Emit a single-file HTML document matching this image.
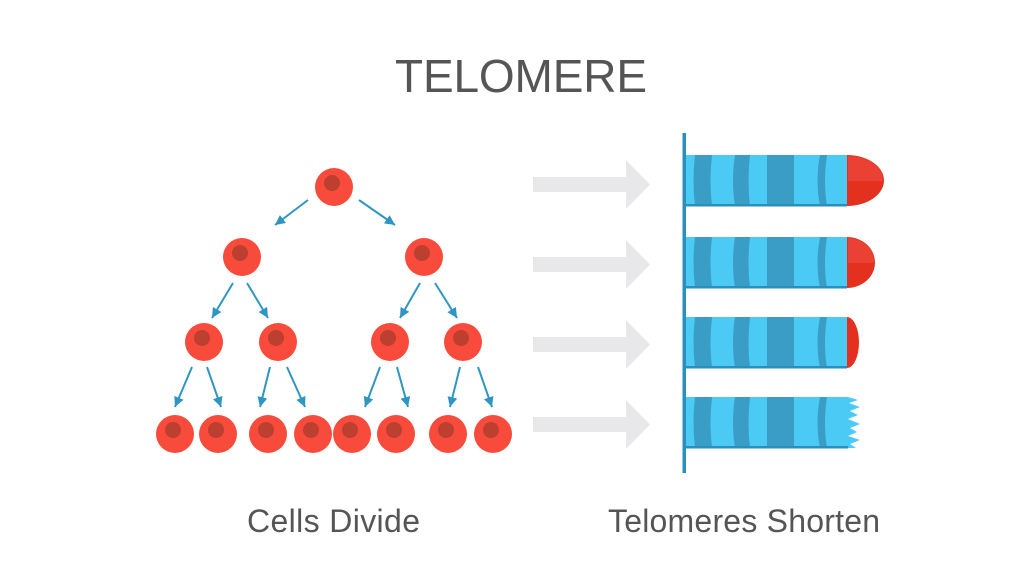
<!DOCTYPE html>
<html><head><meta charset="utf-8"><style>
html,body{margin:0;padding:0;background:#fff;}
svg{display:block;}
</style></head><body>
<svg width="1024" height="573" viewBox="0 0 1024 573" xmlns="http://www.w3.org/2000/svg">
<defs>
<marker id="ah" markerUnits="userSpaceOnUse" markerWidth="12" markerHeight="12" refX="10" refY="5" orient="auto">
<path d="M0,0 L10,5 L0,10 Z" fill="#2f96c2"/>
</marker>
<g id="cell">
<circle cx="0" cy="0" r="19" fill="#f84b3c"/>
<circle cx="-2" cy="-4" r="8" fill="#bd3f2f"/>
</g>
</defs>
<rect width="1024" height="573" fill="#fff"/>

<text x="395" y="92" font-family="Liberation Sans, Arial, sans-serif" font-size="46" fill="#555" textLength="252" lengthAdjust="spacing">TELOMERE</text>

<!-- division arrows -->
<g stroke="#2f96c2" stroke-width="2" fill="none" marker-end="url(#ah)">
<line x1="308" y1="200" x2="275" y2="225"/>
<line x1="359" y1="200" x2="395" y2="225"/>
<line x1="233" y1="283" x2="212" y2="318"/>
<line x1="247" y1="283" x2="268" y2="318"/>
<line x1="420" y1="283" x2="400" y2="318"/>
<line x1="435" y1="283" x2="457" y2="318"/>
<line x1="192" y1="367" x2="175" y2="407"/>
<line x1="207" y1="367" x2="221" y2="407"/>
<line x1="270" y1="367" x2="260" y2="407"/>
<line x1="287" y1="367" x2="305" y2="407"/>
<line x1="380" y1="367" x2="365" y2="407"/>
<line x1="397" y1="367" x2="408" y2="407"/>
<line x1="460" y1="367" x2="450" y2="407"/>
<line x1="478" y1="367" x2="492" y2="407"/>
</g>

<!-- cells -->
<use href="#cell" x="334" y="187"/>
<use href="#cell" x="242" y="257"/>
<use href="#cell" x="424" y="257"/>
<use href="#cell" x="204" y="342"/>
<use href="#cell" x="278" y="342"/>
<use href="#cell" x="390" y="342"/>
<use href="#cell" x="463" y="342"/>
<use href="#cell" x="175" y="434"/>
<use href="#cell" x="218" y="434"/>
<use href="#cell" x="268" y="434"/>
<use href="#cell" x="313" y="434"/>
<use href="#cell" x="352" y="434"/>
<use href="#cell" x="396" y="434"/>
<use href="#cell" x="448" y="434"/>
<use href="#cell" x="493" y="434"/>

<!-- gray arrows -->
<g fill="#e8e8ea">
<path d="M533,177 L626,177 L626,160 L650,184.5 L626,209 L626,192 L533,192 Z"/>
<path d="M533,257 L626,257 L626,240 L650,264.5 L626,289 L626,272 L533,272 Z"/>
<path d="M533,337 L626,337 L626,320 L650,344.5 L626,369 L626,352 L533,352 Z"/>
<path d="M533,417 L626,417 L626,400 L650,424.5 L626,449 L626,432 L533,432 Z"/>
</g>

<!-- chromosomes -->
<g id="bars">
<path d="M847,155 A37,25.5 0 0 1 847,206 Z" fill="#e3301f"/>
<path d="M848,156 A36,24 0 0 1 883,181 L848,181 Z" fill="#ec463a" opacity="0.8"/>
<rect x="686" y="155" width="161" height="51" fill="#4ccaf6"/>
<path d="M847,237 A28,25.5 0 0 1 847,288 Z" fill="#e3301f"/>
<path d="M848,238 A27,24 0 0 1 874,263 L848,263 Z" fill="#ec463a" opacity="0.8"/>
<rect x="686" y="237" width="161" height="51" fill="#4ccaf6"/>
<path d="M847,317 A12,25.5 0 0 1 847,368 Z" fill="#e3301f"/>
<rect x="686" y="317" width="161" height="51" fill="#4ccaf6"/>
<path d="M686,397 L848,397 L858,400 L849,403 L860,407 L850,411 L858,415 L848,419 L860,424 L850,428 L857,432 L848,436 L860,440 L850,444 L856,448 L686,448 Z" fill="#4ccaf6"/>
</g>
<g fill="#3a9dc5">
<path d="M695,155 Q692,180.5 695,206 L712,206 Q709,180.5 712,155 Z"/>
<path d="M735,155 Q731,180.5 735,206 L750,206 Q747,180.5 750,155 Z"/>
<path d="M767,155 L794,155 L794,206 L767,206 Z"/>
<path d="M820,155 Q815,180.5 820,206 L827,206 Q823,180.5 827,155 Z"/>

<path d="M695,237 Q692,262.5 695,288 L712,288 Q709,262.5 712,237 Z"/>
<path d="M735,237 Q731,262.5 735,288 L750,288 Q747,262.5 750,237 Z"/>
<path d="M767,237 L794,237 L794,288 L767,288 Z"/>
<path d="M820,237 Q815,262.5 820,288 L827,288 Q823,262.5 827,237 Z"/>

<path d="M695,317 Q692,342.5 695,368 L712,368 Q709,342.5 712,317 Z"/>
<path d="M735,317 Q731,342.5 735,368 L750,368 Q747,342.5 750,317 Z"/>
<path d="M767,317 L794,317 L794,368 L767,368 Z"/>
<path d="M820,317 Q815,342.5 820,368 L827,368 Q823,342.5 827,317 Z"/>

<path d="M695,397 Q692,422.5 695,448 L712,448 Q709,422.5 712,397 Z"/>
<path d="M735,397 Q731,422.5 735,448 L750,448 Q747,422.5 750,397 Z"/>
<path d="M767,397 L794,397 L794,448 L767,448 Z"/>
<path d="M820,397 Q815,422.5 820,448 L827,448 Q823,422.5 827,397 Z"/>
</g>
<g fill="#2b8fbb">
<rect x="686" y="204" width="161" height="2.5"/>
<rect x="686" y="286" width="161" height="2.5"/>
<rect x="686" y="366" width="161" height="2.5"/>
<rect x="686" y="446" width="162" height="2.5"/>
</g>
<rect x="682.5" y="133" width="3.5" height="340" fill="#2a8fbb"/>

<text x="247" y="532" font-family="Liberation Sans, Arial, sans-serif" font-size="32" fill="#555" textLength="173" lengthAdjust="spacing">Cells Divide</text>
<text x="608" y="532" font-family="Liberation Sans, Arial, sans-serif" font-size="32" fill="#555" textLength="272" lengthAdjust="spacing">Telomeres Shorten</text>
</svg>
</body></html>
